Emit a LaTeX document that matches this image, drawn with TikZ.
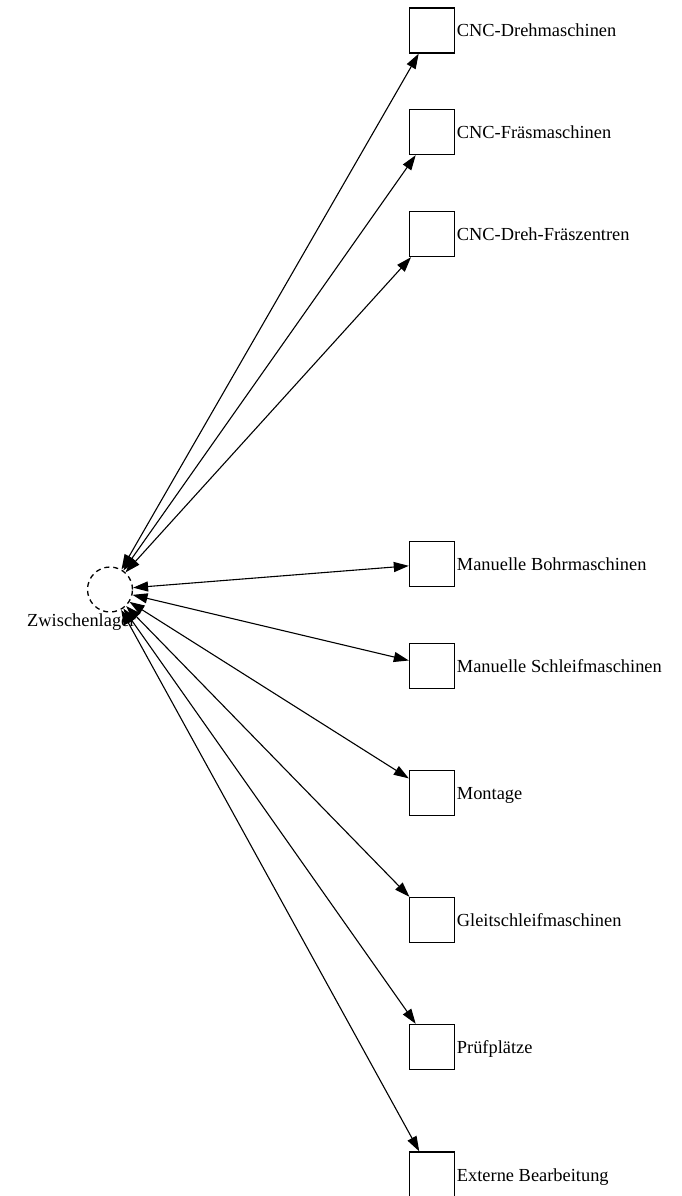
\documentclass[tikz,border=0pt]{standalone}
\usepackage{fontspec}
\setmainfont{Liberation Serif}
\usetikzlibrary{arrows.meta}
\begin{document}
\begin{tikzpicture}[x=1pt,y=1pt,
  machbox/.style={draw, line width=1.4pt, minimum size=45pt, inner sep=0pt, fill=white},
  storecirc/.style={draw, circle, dashed, dash pattern=on 5pt off 4pt, line width=1.3pt, minimum size=45pt, inner sep=0pt},
  edge/.style={line width=1.1pt, {Triangle[length=15pt,width=10pt]}-{Triangle[length=15pt,width=10pt]}},
  lab/.style={anchor=base west, inner sep=0pt, font=\fontsize{18.4}{22}\selectfont}]
\useasboundingbox (0,0) rectangle (682,-1196);
\clip (0,0) rectangle (682,-1196);
\node[storecirc] (z) at (110,-589.5) {};
\node[lab] (zl) at (27,-626) {Zwischenlager};
\foreach \n/\y/\t in {
  b1/30.5/CNC-Drehmaschinen,
  b2/132/CNC-Fräsmaschinen,
  b3/234/CNC-Dreh-Fräszentren,
  b4/564/Manuelle Bohrmaschinen,
  b5/666/Manuelle Schleifmaschinen,
  b6/793/Montage,
  b7/920/Gleitschleifmaschinen,
  b8/1047/Prüfplätze,
  b9/1174.5/Externe Bearbeitung}{
  \node[machbox] (\n) at (432,-\y) {};
  \node[lab] (\n l) at ([xshift=1.5pt,yshift=-6.5pt]\n.east) {\t};
  \draw[edge] (z) -- (\n);
}
\end{tikzpicture}
\end{document}
